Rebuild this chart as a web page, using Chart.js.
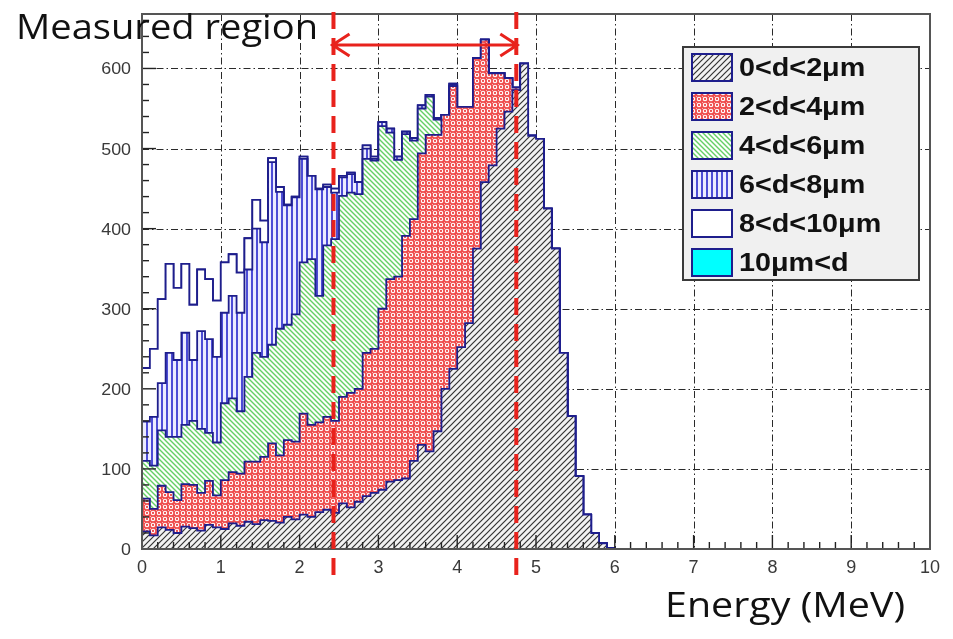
<!DOCTYPE html>
<html>
<head>
<meta charset="utf-8">
<script src="https://cdn.jsdelivr.net/npm/chart.js@4.4.0/dist/chart.umd.min.js"></script>
<style>
  html, body { margin: 0; padding: 0; background: #ffffff; overflow: hidden; }
  canvas { display: block; }
</style>
</head>
<body>
<canvas id="chart" width="953" height="639"></canvas>
<script>
// Energy histogram, 0.1 MeV bins starting at 0 MeV (bins above 6 MeV are empty)
const binWidth = 0.1;

// Counts per bin for each deposit-thickness class
const d0to2 = [22,17,27,24,20,28,26,23,30,27, 25,32,29,34,31,36,35,33,40,37,
               43,40,46,49,45,57,52,59,66,70, 74,84,86,88,110,130,122,147,200,225,
               252,282,375,458,479,525,546,573,606,516, 512,425,375,245,166,91,43,20,7,1];
const d2to4 = [41,33,52,47,41,53,54,47,55,40, 61,64,65,75,78,79,97,84,96,97,
               126,115,112,116,115,133,143,141,179,180, 226,253,254,303,302,364,395,370,342,353,
               300,270,238,178,115,69,42,3,0,0, 0,0,0,0,0,0,0,0,0,0];
const d4to6 = [47,54,69,69,79,74,80,80,60,66, 96,92,78,106,136,125,123,158,144,159,
               189,207,158,214,227,251,250,243,242,235, 228,183,146,127,98,56,48,19,0,0,
               0,0,0,0,0,0,0,0,0,0, 0,0,0,0,0,0,0,0,0,0];
const d6to8 = [49,61,59,105,96,115,76,122,117,107, 113,128,123,134,155,143,228,171,149,146,
               129,104,133,73,58,23,23,15,13,2, 5,5,4,3,3,4,2,2,0,2,
               0,0,0,0,0,0,0,0,0,0, 0,0,0,0,0,0,0,0,0,0];
const d8to10 = [67,85,105,111,90,86,69,77,75,70, 63,52,50,39,36,27,5,6,1,1,
                3,0,1,3,5,2,2,0,4,3, 0,0,0,0,0,0,0,0,0,1,
                0,0,0,0,0,0,0,0,0,0, 0,0,0,0,0,0,0,0,0,0];
const d10up = [0,0,0,0,0,0,0,0,0,0, 0,0,0,0,0,0,0,0,0,0,
               0,0,0,0,0,0,0,0,0,0, 0,0,0,0,0,0,0,0,0,0,
               0,0,0,0,0,0,0,0,0,0, 0,0,0,0,0,0,0,0,0,0];

const classLabels = ['0<d<2\u03bcm', '2<d<4\u03bcm', '4<d<6\u03bcm', '6<d<8\u03bcm', '8<d<10\u03bcm', '10\u03bcm<d'];
const xTickValues = [0,1,2,3,4,5,6,7,8,9,10];
const yTickValues = [0,100,200,300,400,500,600];
const measuredRegion = [2.43, 4.75];   // MeV
const titleText = 'Measured region';
const axisTitle = 'Energy (MeV)';

const canvas = document.getElementById('chart');
const ctx0 = canvas.getContext('2d');

// ---- fill patterns (ROOT-like hatches) ----
function makePattern(w, h, bg, draw) {
  const c = document.createElement('canvas');
  c.width = w; c.height = h;
  const g = c.getContext('2d');
  g.fillStyle = bg; g.fillRect(0, 0, w, h);
  draw(g, w, h);
  return ctx0.createPattern(c, 'repeat');
}
const patGray = makePattern(6, 6, '#f2f2f2', (g, s) => {
  g.strokeStyle = '#333333'; g.lineWidth = 1.2;
  g.beginPath();
  g.moveTo(-1, s + 1); g.lineTo(s + 1, -1);
  g.moveTo(-1, 1); g.lineTo(1, -1);
  g.moveTo(s - 1, s + 1); g.lineTo(s + 1, s - 1);
  g.stroke();
});
const patRed = makePattern(6, 6, '#ef4e4e', (g) => {
  g.strokeStyle = '#ffffff'; g.lineWidth = 1.1;
  g.beginPath(); g.arc(3, 3, 1.7, 0, Math.PI * 2); g.stroke();
  g.fillStyle = '#f8b0b0';
  g.fillRect(0, 0, 1, 1);
});
const patGreen = makePattern(5, 5, '#ffffff', (g, s) => {
  g.strokeStyle = '#66cf66'; g.lineWidth = 1.4;
  g.beginPath();
  g.moveTo(-1, -1); g.lineTo(s + 1, s + 1);
  g.moveTo(s - 1, -1); g.lineTo(s + 1, 1);
  g.moveTo(-1, s - 1); g.lineTo(1, s + 1);
  g.stroke();
});
const patBlue = makePattern(5, 4, '#ececff', (g) => {
  g.fillStyle = '#4d4dd6'; g.fillRect(1, 0, 2, 4);
});
const fillWhite = '#ffffff';
const fillCyan = '#00ffff';
const classFills = [patGray, patRed, patGreen, patBlue, fillWhite, fillCyan];
const outline = '#1e1e8c';

// ---- cumulative stack levels, drawn as step outlines ----
const classCounts = [d0to2, d2to4, d4to6, d6to8, d8to10, d10up];
const nBins = d0to2.length;
let running = new Array(nBins).fill(0);
const datasets = classCounts.map((counts, j) => {
  running = running.map((v, i) => v + counts[i]);
  const pts = running.map((v, i) => ({ x: +(i * binWidth).toFixed(2), y: v }));
  pts.push({ x: +(nBins * binWidth).toFixed(2), y: 0 });
  return {
    label: classLabels[j],
    data: pts,
    stepped: 'before',
    borderColor: outline,
    borderWidth: 1.8,
    backgroundColor: classFills[j],
    fill: j === 0 ? 'origin' : '-1',
    pointRadius: 0,
    order: 0
  };
});

// ---- helpers ----
function stretchedText(ctx, text, x, y, font, align, sx, color) {
  ctx.save();
  ctx.font = font;
  ctx.fillStyle = color;
  ctx.textBaseline = 'alphabetic';
  const w = ctx.measureText(text).width * sx;
  let left = x;
  if (align === 'center') left = x - w / 2;
  else if (align === 'right') left = x - w;
  ctx.translate(left, y);
  ctx.scale(sx, 1);
  ctx.textAlign = 'left';
  ctx.fillText(text, 0, 0);
  ctx.restore();
}
function fittedText(ctx, text, left, baseline, font, width, color) {
  ctx.save();
  ctx.font = font;
  const sx = width / ctx.measureText(text).width;
  ctx.restore();
  stretchedText(ctx, text, left, baseline, font, 'left', sx, color);
}

// grid under the histograms, frame / ticks / annotations on top
const rootStylePlugin = {
  id: 'rootStyle',
  beforeDatasetsDraw(chart) {
    const { ctx, chartArea: a, scales: { x, y } } = chart;
    ctx.save();
    ctx.strokeStyle = '#2a2a2a';
    ctx.lineWidth = 1;
    ctx.setLineDash([7, 3, 1.5, 3]);
    xTickValues.slice(1, -1).forEach(v => {
      const px = Math.round(x.getPixelForValue(v)) + 0.5;
      ctx.beginPath(); ctx.moveTo(px, a.top); ctx.lineTo(px, a.bottom); ctx.stroke();
    });
    yTickValues.slice(1).forEach(v => {
      const py = Math.round(y.getPixelForValue(v)) + 0.5;
      ctx.beginPath(); ctx.moveTo(a.left, py); ctx.lineTo(a.right, py); ctx.stroke();
    });
    ctx.restore();
  },
  afterDatasetsDraw(chart) {
    const { ctx, chartArea: a, scales: { x, y } } = chart;
    ctx.save();
    // inward tick marks
    ctx.strokeStyle = '#222';
    ctx.lineWidth = 1.4;
    for (let v = 0; v <= 10.001; v += 0.2) {
      const major = Math.abs(v - Math.round(v)) < 1e-6;
      const px = x.getPixelForValue(v);
      ctx.beginPath(); ctx.moveTo(px, a.bottom); ctx.lineTo(px, a.bottom - (major ? 14 : 7)); ctx.stroke();
    }
    for (let v = 0; v <= y.max; v += 20) {
      const major = v % 100 === 0;
      const py = y.getPixelForValue(v);
      ctx.beginPath(); ctx.moveTo(a.left, py); ctx.lineTo(a.left + (major ? 14 : 7), py); ctx.stroke();
    }
    // frame
    ctx.strokeStyle = '#555';
    ctx.lineWidth = 2;
    ctx.strokeRect(a.left, a.top, a.right - a.left, a.bottom - a.top);
    // tick labels
    xTickValues.forEach(v => {
      stretchedText(ctx, String(v), x.getPixelForValue(v), a.bottom + 24, '18px "Liberation Sans", Arial, sans-serif', 'center', 1.0, '#3a3a3a');
    });
    yTickValues.forEach(v => {
      stretchedText(ctx, String(v), a.left - 11, y.getPixelForValue(v) + 6, '17px "Liberation Sans", Arial, sans-serif', 'right', 1.05, '#3a3a3a');
    });

    // measured-region markers
    ctx.strokeStyle = '#e8221c';
    ctx.lineWidth = 4;
    ctx.setLineDash([17, 9]);
    measuredRegion.forEach(v => {
      const px = x.getPixelForValue(v);
      ctx.beginPath(); ctx.moveTo(px, 12); ctx.lineTo(px, 576); ctx.stroke();
    });
    ctx.setLineDash([]);
    ctx.lineWidth = 3;
    const x1 = x.getPixelForValue(measuredRegion[0]) - 1;
    const x2 = x.getPixelForValue(measuredRegion[1]) + 1;
    const ay = 45;
    ctx.beginPath();
    ctx.moveTo(x1, ay); ctx.lineTo(x2, ay);
    ctx.moveTo(x1 + 17, ay - 11); ctx.lineTo(x1, ay); ctx.lineTo(x1 + 17, ay + 11);
    ctx.moveTo(x2 - 17, ay - 11); ctx.lineTo(x2, ay); ctx.lineTo(x2 - 17, ay + 11);
    ctx.stroke();

    // texts
    fittedText(ctx, titleText, 16, 39, '34px "Open Sans", sans-serif', 302, '#111');
    fittedText(ctx, axisTitle, 665, 617, '35px "Open Sans", sans-serif', 240, '#111');

    // legend
    const lx = 683, ly = 47, lw = 236, lh = 233;
    ctx.fillStyle = '#f0f0f0';
    ctx.fillRect(lx, ly, lw, lh);
    ctx.strokeStyle = '#3a3a3a';
    ctx.lineWidth = 2;
    ctx.strokeRect(lx, ly, lw, lh);
    chart.data.datasets.forEach((ds, i) => {
      const cy = 67 + i * 39;
      ctx.fillStyle = ds.backgroundColor;
      ctx.fillRect(692, cy - 13, 40, 27);
      ctx.strokeStyle = outline;
      ctx.lineWidth = 2;
      ctx.strokeRect(692, cy - 13, 40, 27);
      stretchedText(ctx, ds.label, 739, cy + 9, 'bold 25px "Liberation Sans", Arial, sans-serif', 'left', 1.15, '#111');
    });
    ctx.restore();
  }
};

new Chart(canvas, {
  type: 'line',
  data: { datasets },
  options: {
    responsive: false,
    animation: false,
    devicePixelRatio: 1,
    layout: { padding: { top: 14, right: 23, left: 0, bottom: 0 } },
    plugins: {
      legend: { display: false },
      tooltip: { enabled: false },
      filler: { propagate: false }
    },
    elements: { point: { radius: 0 }, line: { tension: 0 } },
    scales: {
      x: {
        type: 'linear', min: 0, max: 10,
        afterFit: s => { s.height = 90; },
        ticks: { display: false, stepSize: 1 },
        grid: { display: false },
        border: { display: false }
      },
      y: {
        type: 'linear', min: 0, max: 668,
        afterFit: s => { s.width = 142; },
        ticks: { display: false, stepSize: 100 },
        grid: { display: false },
        border: { display: false }
      }
    }
  },
  plugins: [rootStylePlugin]
});
</script>
</body>
</html>
